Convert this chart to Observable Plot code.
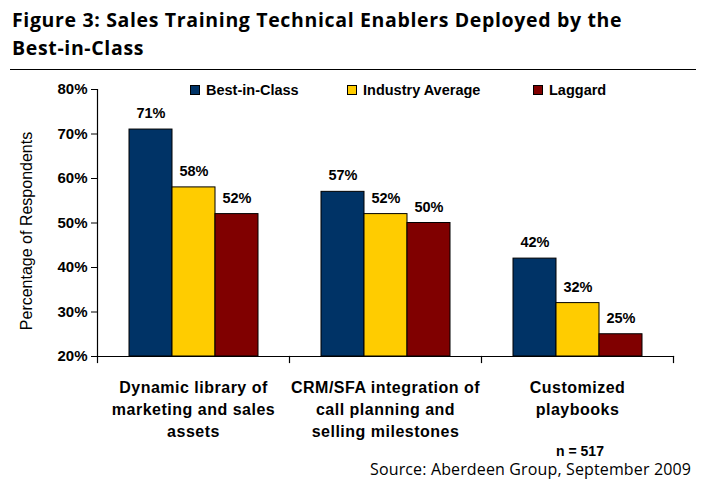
<!DOCTYPE html>
<html>
<head>
<meta charset="utf-8">
<script src="https://cdn.jsdelivr.net/npm/d3@7"></script>
<script src="https://cdn.jsdelivr.net/npm/@observablehq/plot@0.6"></script>
<style>
  html, body { margin: 0; padding: 0; background: #fff; }
  #wrap { position: relative; width: 706px; height: 486px; overflow: hidden; font-family: "Liberation Sans", Arial, sans-serif; color: #000; }
  #chart { position: absolute; left: 0; top: 0; }
  #chart [aria-label="fx-axis tick label"] text { letter-spacing: 0.5px; }
  #title { position: absolute; left: 12px; top: 6px; font-family: "Open Sans", Lato, sans-serif; font-weight: 700; font-size: 19.5px; line-height: 27.5px; white-space: nowrap; }
  #title span { display: inline-block; }
  #rule { position: absolute; left: 10px; top: 68.5px; width: 686px; height: 0; border-top: 1.5px solid #000; }
  #legend { position: absolute; top: 81px; left: 0; width: 706px; height: 18px; font-weight: bold; font-size: 14.5px; }
  .item { position: absolute; top: 0; white-space: nowrap; line-height: 18px; }
  .sw { display: inline-block; width: 8px; height: 8px; border: 1px solid #000; margin-right: 6px; vertical-align: 0px; }
  #ytitle { position: absolute; left: 27px; top: 231px; transform: translate(-50%, -50%) rotate(-90deg); font-size: 16px; white-space: nowrap; }
  #n { position: absolute; left: 580px; top: 451px; transform: translate(-50%, -50%); font-weight: bold; font-size: 14px; white-space: nowrap; }
  #source { position: absolute; left: 370px; top: 458px; font-family: "Open Sans", Lato, sans-serif; font-size: 16px; white-space: nowrap; }
</style>
</head>
<body>
<div id="wrap">
  <div id="chart"></div>
  <div id="title"><span id="t1">Figure 3: Sales Training Technical Enablers Deployed by the</span><br><span id="t2">Best-in-Class</span></div>
  <div id="rule"></div>
  <div id="legend"></div>
  <div id="ytitle">Percentage of Respondents</div>
  <div id="n">n = 517</div>
  <div id="source"><span id="src">Source: Aberdeen Group, September 2009</span></div>
</div>
<script>
const categories = [
  "Dynamic library of\nmarketing and sales\nassets",
  "CRM/SFA integration of\ncall planning and\nselling milestones",
  "Customized\nplaybooks"
];
const series = ["Best-in-Class", "Industry Average", "Laggard"];
const bestInClass = [71, 57, 42];
const industryAverage = [58, 52, 32];
const laggard = [52, 50, 25];
const colors = ["#003366", "#FFCC00", "#800000"];
const yTicks = [20, 30, 40, 50, 60, 70, 80];
const legendLefts = [190, 347, 533];

const seriesValues = [bestInClass, industryAverage, laggard];
const data = [];
categories.forEach((c, i) => {
  seriesValues.forEach((arr, j) => {
    data.push({category: c, series: series[j], value: arr[i]});
  });
});

const yMin = yTicks[0];
const yMax = yTicks[yTicks.length - 1];

const chart = Plot.plot({
  width: 706,
  height: 486,
  marginLeft: 96,
  marginRight: 33,
  marginTop: 89,
  marginBottom: 130,
  style: { fontFamily: "'Liberation Sans', Arial, sans-serif", fontSize: "15px", color: "#000", background: "transparent", overflow: "visible" },
  fx: { domain: categories, padding: 0, label: null },
  x: { domain: series, paddingInner: 0, paddingOuter: 0.72, axis: null },
  y: { domain: [yMin, yMax], label: null },
  color: { domain: series, range: colors },
  marks: [
    Plot.barY(data, { fx: "category", x: "series", y1: yMin, y2: "value", fill: "series", stroke: "#000", strokeWidth: 1 }),
    Plot.text(data, { fx: "category", x: "series", y: "value", text: d => d.value + "%", dy: -16, fontWeight: "bold", fontSize: 14.5, fill: "#000" }),
    Plot.frame({ anchor: "bottom", stroke: "#000", strokeWidth: 1.2, strokeOpacity: 1 }),
    Plot.frame({ anchor: "left", stroke: "#000", strokeWidth: 1.2, strokeOpacity: 1, facetAnchor: "left" }),
    Plot.frame({ anchor: "left", stroke: "#000", strokeWidth: 1.2, strokeOpacity: 1, insetTop: 267, insetBottom: -6 }),
    Plot.frame({ anchor: "right", stroke: "#000", strokeWidth: 1.2, strokeOpacity: 1, insetTop: 267, insetBottom: -6, facetAnchor: "right" }),
    Plot.axisY({ ticks: yTicks, tickFormat: d => d + "%", tickSize: 6, tickPadding: 4, fontWeight: "bold", fontSize: 15, label: null, stroke: "#000", strokeOpacity: 1 }),
    Plot.axisFx({ anchor: "bottom", tickSize: 0, tickPadding: 21, lineHeight: 1.375, fontWeight: "bold", fontSize: 16, label: null })
  ]
});
document.getElementById("chart").appendChild(chart);

const legend = document.getElementById("legend");
series.forEach((s, j) => {
  const item = document.createElement("div");
  item.className = "item";
  item.style.left = legendLefts[j] + "px";
  const sw = document.createElement("span");
  sw.className = "sw";
  sw.style.background = colors[j];
  item.appendChild(sw);
  item.appendChild(document.createTextNode(s));
  legend.appendChild(item);
});

// stretch text to the reference widths with letter spacing
function fit(el, target) {
  const w = el.getBoundingClientRect().width;
  const n = el.textContent.length;
  const ls = (target - w) / n;
  el.style.letterSpacing = ls.toFixed(2) + "px";
  return ls;
}
const ls = fit(document.getElementById("t1"), 610);
document.getElementById("t2").style.letterSpacing = ls.toFixed(2) + "px";
fit(document.getElementById("src"), 321);
</script>
</body>
</html>
